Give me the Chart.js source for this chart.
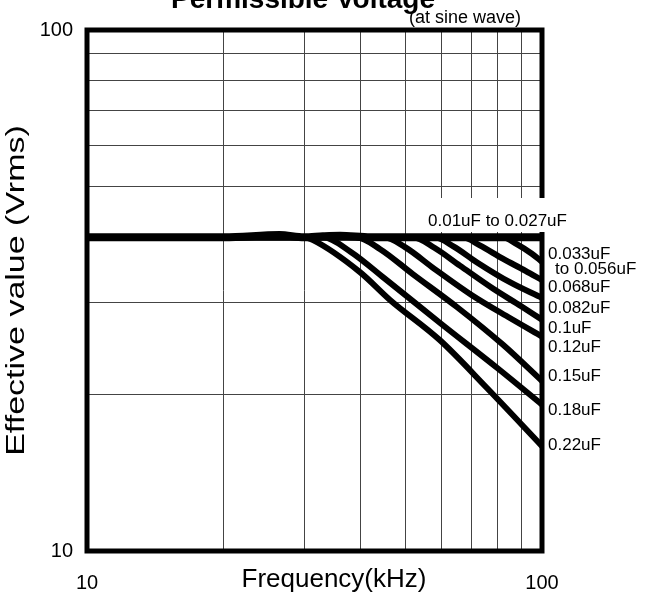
<!DOCTYPE html>
<html>
<head>
<meta charset="utf-8">
<script src="https://cdn.jsdelivr.net/npm/chart.js@4/dist/chart.umd.min.js"></script>
<style>
  html, body { margin: 0; padding: 0; background: #fff; }
</style>
</head>
<body>
<canvas id="voltChart" width="655" height="597"></canvas>
<script>
// curve names, in order from top to bottom
const capLabels = ["0.01uF to 0.027uF", "0.033uF", "0.068uF", "0.082uF", "0.1uF", "0.12uF", "0.15uF", "0.18uF", "0.22uF"];

// frequency (kHz) and effective value (Vrms)
const freq001 = [10, 20, 26.5, 30, 33, 36, 42, 100];
const volt001 = [40, 40, 40.4, 40, 40.2, 40.3, 40, 40];
const freq033 = [10, 82, 88, 95, 100];
const volt033 = [40, 40, 38.8, 37.2, 35.9];
const freq068 = [10, 67, 73, 82, 92, 100];
const volt068 = [40, 40, 38.6, 36.4, 34.5, 33.1];
const freq082 = [10, 58, 64, 72, 85, 100];
const volt082 = [40, 40, 38.4, 35.8, 32.8, 30.6];
const freq01 = [10, 52, 58, 66, 78, 90, 100];
const volt01 = [40, 40, 38.2, 35.3, 31.9, 29.5, 27.8];
const freq012 = [10, 45, 50, 58, 70, 85, 100];
const volt012 = [40, 40, 38.3, 34.8, 31.0, 28.0, 25.8];
const freq015 = [10, 39, 44, 52, 65, 82, 100];
const volt015 = [40, 40, 38.0, 34.0, 29.4, 24.9, 21.2];
const freq018 = [10, 33, 38, 45, 60, 80, 100];
const volt018 = [40, 40, 37.5, 33.4, 27.3, 22.4, 19.1];
const freq022 = [10, 30, 31.4, 39.8, 46.4, 59.6, 75.5, 100];
const volt022 = [40, 40, 39.5, 34.3, 30.3, 25.4, 20.6, 15.9];

// grid lines and the labelled ticks
const gridVals = [10, 20, 30, 40, 50, 60, 70, 80, 90, 100];
const xTicks = [10, 100];
const yTicks = [10, 100];

const curves = [
  [freq001, volt001], [freq033, volt033], [freq068, volt068], [freq082, volt082],
  [freq01, volt01], [freq012, volt012], [freq015, volt015], [freq018, volt018], [freq022, volt022]
];

const FONT = '"Liberation Sans", Arial, sans-serif';
Chart.defaults.font.family = FONT;
Chart.defaults.color = "#000";

// vertical position of each curve name (px)
const labelY = [221, 254, 287, 308, 328, 347, 376, 410, 445];

const datasets = curves.map((c, i) => ({
  label: capLabels[i],
  data: c[0].map((f, j) => ({ x: f, y: c[1][j] })),
  borderColor: "#000",
  borderWidth: i == 0 ? 8 : 6,
  borderCapStyle: "butt",
  pointRadius: 0,
  cubicInterpolationMode: "monotone",
  fill: false
}));

const decor = {
  id: "decor",
  afterDatasetsDraw(chart) {
    const ctx = chart.ctx;
    const a = chart.chartArea;
    ctx.save();
    // heavy frame
    ctx.strokeStyle = "#000";
    ctx.lineWidth = 5;
    ctx.strokeRect(a.left, a.top, a.right - a.left, a.bottom - a.top);

    // title, mostly cut off at the top
    ctx.fillStyle = "#000";
    ctx.textAlign = "center";
    ctx.textBaseline = "alphabetic";
    ctx.font = "bold 28px " + FONT;
    ctx.fillText("Permissible Voltage", 303, 8);
    ctx.font = "18px " + FONT;
    ctx.textBaseline = "middle";
    ctx.fillText("(at sine wave)", 465, 18);

    // x axis title, on the tick label line
    ctx.font = "26px " + FONT;
    ctx.fillText("Frequency(kHz)", 334, 580);

    // y axis title, stretched along its length like the original
    ctx.save();
    ctx.translate(17, (a.top + a.bottom) / 2);
    ctx.rotate(-Math.PI / 2);
    ctx.scale(1.36, 1);
    ctx.font = "25px " + FONT;
    ctx.fillText("Effective value (Vrms)", 0, 0);
    ctx.restore();

    // top label with white box over the grid
    ctx.fillStyle = "#fff";
    ctx.fillRect(412, 198, 175, 34);
    ctx.fillStyle = "#000";
    ctx.textAlign = "left";
    ctx.font = "17px " + FONT;
    ctx.fillText(capLabels[0], 428, labelY[0]);

    // right-hand labels
    for (let i = 1; i < capLabels.length; i++) {
      ctx.fillText(capLabels[i], 548, labelY[i]);
    }
    ctx.fillText("to 0.056uF", 555, 269);
    ctx.restore();
  }
};

function setGrid(s) {
  s.ticks = gridVals.map(v => ({ value: v }));
}

new Chart(document.getElementById("voltChart"), {
  type: "line",
  data: { datasets: datasets },
  options: {
    responsive: false,
    animation: false,
    layout: { padding: { top: 30, right: 113, left: 0, bottom: 0 } },
    plugins: { legend: { display: false }, tooltip: { enabled: false } },
    scales: {
      x: {
        type: "logarithmic",
        min: 10,
        max: 100,
        afterBuildTicks: setGrid,
        afterFit: (s) => { s.height = 46; },
        border: { display: false },
        grid: { color: "#444", lineWidth: 1, drawTicks: false },
        ticks: {
          autoSkip: false,
          maxRotation: 0,
          padding: 20,
          font: { size: 20 },
          callback: (v) => xTicks.includes(v) ? String(v) : ""
        }
      },
      y: {
        type: "logarithmic",
        min: 10,
        max: 100,
        afterBuildTicks: setGrid,
        afterFit: (s) => { s.width = 87; },
        border: { display: false },
        grid: { color: "#444", lineWidth: 1, drawTicks: false },
        ticks: {
          autoSkip: false,
          padding: 14,
          font: { size: 20 },
          callback: (v) => yTicks.includes(v) ? String(v) : ""
        }
      }
    }
  },
  plugins: [decor]
});
</script>
</body>
</html>
